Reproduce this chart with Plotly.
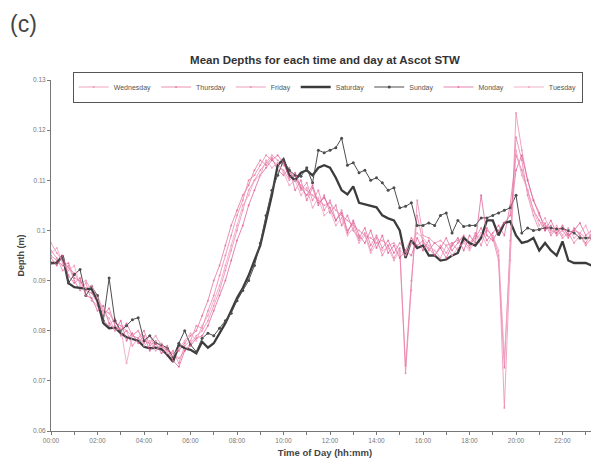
import numpy as np
import plotly.graph_objects as go

# ==========================================
# DATA (mean depth in m, 15-minute steps from 00:00)
# ==========================================
time_hours = np.arange(0, 24, 0.25)

tick_hours = [0, 2, 4, 6, 8, 10, 12, 14, 16, 18, 20, 22]
tick_labels = ["00:00", "02:00", "04:00", "06:00", "08:00", "10:00",
               "12:00", "14:00", "16:00", "18:00", "20:00", "22:00"]
depth_ticks = [0.06, 0.07, 0.08, 0.09, 0.10, 0.11, 0.12, 0.13]
depth_labels = ["0.06", "0.07", "0.08", "0.09", "0.1", "0.11", "0.12", "0.13"]

wednesday = [
    0.0975, 0.0955, 0.0940, 0.0925, 0.0915, 0.0895, 0.0900, 0.0880,
    0.0870, 0.0840, 0.0835, 0.0815, 0.0810, 0.0800, 0.0790, 0.0800,
    0.0780, 0.0775, 0.0790, 0.0770, 0.0760, 0.0755, 0.0745, 0.0760,
    0.0775, 0.0790, 0.0800, 0.0820, 0.0850, 0.0880, 0.0920, 0.0960,
    0.1000, 0.1040, 0.1080, 0.1100, 0.1120, 0.1135, 0.1150, 0.1140,
    0.1130, 0.1120, 0.1100, 0.1090, 0.1080, 0.1070, 0.1060, 0.1050,
    0.1055, 0.1040, 0.1030, 0.1020, 0.1010, 0.1000, 0.0990, 0.0985,
    0.0975, 0.0980, 0.0970, 0.0975, 0.0960, 0.0715, 0.0880, 0.1060,
    0.0990, 0.0985, 0.0975, 0.0980, 0.0970, 0.0975, 0.0980, 0.0985,
    0.0975, 0.0990, 0.0985, 0.1000, 0.0990, 0.0950, 0.0646, 0.0940,
    0.1234, 0.1160, 0.1100, 0.1060, 0.1030, 0.1010, 0.1000, 0.0995,
    0.1005, 0.0990, 0.1000, 0.0995, 0.0985, 0.0990, 0.0980, 0.0985,
]
thursday = [
    0.0950, 0.0940, 0.0930, 0.0935, 0.0905, 0.0900, 0.0880, 0.0875,
    0.0855, 0.0830, 0.0845, 0.0810, 0.0800, 0.0815, 0.0790, 0.0785,
    0.0800, 0.0770, 0.0780, 0.0765, 0.0770, 0.0745, 0.0760, 0.0775,
    0.0790, 0.0800, 0.0830, 0.0860, 0.0900, 0.0930, 0.0970, 0.1010,
    0.1040, 0.1070, 0.1090, 0.1120, 0.1140, 0.1130, 0.1145, 0.1120,
    0.1110, 0.1125, 0.1080, 0.1100, 0.1060, 0.1085, 0.1050, 0.1070,
    0.1035, 0.1050, 0.1010, 0.1030, 0.1000, 0.0985, 0.1005, 0.0970,
    0.0990, 0.0965, 0.0980, 0.0955, 0.0975, 0.0960, 0.0985, 0.0970,
    0.0980, 0.0960, 0.0975, 0.0965, 0.0985, 0.0960, 0.0975, 0.0990,
    0.0970, 0.0985, 0.1005, 0.0980, 0.0995, 0.1010, 0.0990, 0.1050,
    0.1150, 0.1120, 0.1080, 0.1040, 0.1020, 0.1000, 0.1010, 0.0990,
    0.1000, 0.0985, 0.1005, 0.0990, 0.0975, 0.0995, 0.0985, 0.0990,
]
friday = [
    0.0960, 0.0945, 0.0920, 0.0930, 0.0900, 0.0880, 0.0895, 0.0860,
    0.0850, 0.0820, 0.0810, 0.0825, 0.0790, 0.0800, 0.0770, 0.0785,
    0.0775, 0.0790, 0.0765, 0.0770, 0.0750, 0.0760, 0.0735, 0.0770,
    0.0780, 0.0810, 0.0805, 0.0840, 0.0870, 0.0910, 0.0950, 0.0990,
    0.1030, 0.1060, 0.1100, 0.1110, 0.1130, 0.1150, 0.1140, 0.1130,
    0.1120, 0.1100, 0.1110, 0.1080, 0.1095, 0.1060, 0.1080, 0.1040,
    0.1060, 0.1020, 0.1040, 0.1000, 0.1015, 0.0980, 0.0995, 0.0960,
    0.0985, 0.0950, 0.0970, 0.0945, 0.0965, 0.0730, 0.0900, 0.1030,
    0.0975, 0.0965, 0.0950, 0.0970, 0.0955, 0.0975, 0.0960, 0.0980,
    0.0965, 0.0995, 0.0970, 0.1005, 0.0985, 0.0940, 0.0726, 0.0980,
    0.1186, 0.1140, 0.1070, 0.1030, 0.1000, 0.1015, 0.0990, 0.1005,
    0.0985, 0.0995, 0.0975, 0.0990, 0.0970, 0.0985, 0.0995, 0.0980,
]
saturday = [
    0.0935, 0.0935, 0.0950, 0.0895, 0.0887, 0.0885, 0.0884, 0.0883,
    0.0860, 0.0815, 0.0805, 0.0806, 0.0795, 0.0787, 0.0783, 0.0780,
    0.0768, 0.0765, 0.0766, 0.0763, 0.0752, 0.0738, 0.0772, 0.0765,
    0.0762, 0.0755, 0.0778, 0.0766, 0.0775, 0.0795, 0.0815, 0.0840,
    0.0865, 0.0885, 0.0910, 0.0940, 0.0970, 0.1020, 0.1070, 0.1130,
    0.1142, 0.1110, 0.1100, 0.1115, 0.1120, 0.1110, 0.1125, 0.1130,
    0.1125, 0.1105, 0.1080, 0.1072, 0.1088, 0.1055, 0.1052, 0.1050,
    0.1046, 0.1030, 0.1024, 0.1020, 0.1000, 0.0945, 0.0980, 0.0965,
    0.0970, 0.0950, 0.0950, 0.0940, 0.0942, 0.0950, 0.0955, 0.0985,
    0.0975, 0.0970, 0.0985, 0.1020, 0.1020, 0.0990, 0.1015, 0.1018,
    0.0990, 0.0975, 0.0978, 0.0985, 0.0960, 0.0975, 0.0960, 0.0950,
    0.0978, 0.0940, 0.0935, 0.0935, 0.0935, 0.0930, 0.0915, 0.0910,
]
sunday = [
    0.0935, 0.0935, 0.0945, 0.0895, 0.0912, 0.0922, 0.0870, 0.0888,
    0.0870, 0.0820, 0.0905, 0.0820, 0.0800, 0.0810, 0.0822, 0.0826,
    0.0780, 0.0790, 0.0775, 0.0772, 0.0765, 0.0748, 0.0775, 0.0800,
    0.0772, 0.0758, 0.0785, 0.0795, 0.0790, 0.0805, 0.0820, 0.0835,
    0.0860, 0.0880, 0.0900, 0.0930, 0.0975, 0.1030, 0.1080, 0.1110,
    0.1140, 0.1120, 0.1110, 0.1108, 0.1125, 0.1095, 0.1160, 0.1155,
    0.1160, 0.1165, 0.1184, 0.1130, 0.1135, 0.1115, 0.1120, 0.1100,
    0.1105, 0.1095, 0.1080, 0.1085, 0.1045, 0.1048, 0.1055, 0.1010,
    0.1010, 0.1015, 0.1010, 0.1030, 0.1035, 0.0995, 0.1020, 0.1008,
    0.1010, 0.1010, 0.1025, 0.1025, 0.1030, 0.1035, 0.1040, 0.1045,
    0.1070, 0.0995, 0.1005, 0.1000, 0.1002, 0.1005, 0.1005, 0.1003,
    0.1004, 0.1000, 0.0995, 0.0985, 0.0985, 0.0985, 0.1005, 0.1000,
]
monday = [
    0.0945, 0.0930, 0.0950, 0.0910, 0.0895, 0.0905, 0.0870, 0.0865,
    0.0840, 0.0850, 0.0815, 0.0800, 0.0820, 0.0780, 0.0795, 0.0775,
    0.0790, 0.0760, 0.0775, 0.0755, 0.0765, 0.0740, 0.0728, 0.0760,
    0.0770, 0.0785, 0.0790, 0.0810, 0.0840, 0.0870, 0.0900, 0.0940,
    0.0980, 0.1010, 0.1050, 0.1080, 0.1110, 0.1125, 0.1140, 0.1150,
    0.1135, 0.1105, 0.1115, 0.1085, 0.1070, 0.1090, 0.1055, 0.1065,
    0.1045, 0.1020, 0.1035, 0.0995, 0.1020, 0.0990, 0.0975, 0.1000,
    0.0965, 0.0990, 0.0955, 0.0970, 0.0945, 0.0960, 0.0950, 0.0985,
    0.0960, 0.0980, 0.0950, 0.0965, 0.0945, 0.0970, 0.0985, 0.0960,
    0.0990, 0.0975, 0.1070, 0.0990, 0.0980, 0.1000, 0.1015, 0.1030,
    0.1120, 0.1150, 0.1100, 0.1060, 0.1035, 0.1000, 0.1020, 0.0995,
    0.1010, 0.0990, 0.1000, 0.1015, 0.0990, 0.1000, 0.1005, 0.0995,
]
tuesday = [
    0.0955, 0.0965, 0.0935, 0.0920, 0.0930, 0.0890, 0.0885, 0.0890,
    0.0865, 0.0835, 0.0825, 0.0800, 0.0805, 0.0735, 0.0790, 0.0800,
    0.0770, 0.0780, 0.0760, 0.0775, 0.0755, 0.0750, 0.0765, 0.0780,
    0.0795, 0.0780, 0.0810, 0.0830, 0.0860, 0.0890, 0.0930, 0.0970,
    0.1010, 0.1050, 0.1070, 0.1100, 0.1110, 0.1140, 0.1125, 0.1135,
    0.1115, 0.1090, 0.1100, 0.1070, 0.1085, 0.1045, 0.1065, 0.1030,
    0.1040, 0.1010, 0.1025, 0.0990, 0.1005, 0.0975, 0.0990, 0.0955,
    0.0975, 0.0960, 0.0965, 0.0940, 0.0960, 0.0950, 0.0975, 0.0995,
    0.0985, 0.0970, 0.0960, 0.0945, 0.0970, 0.0950, 0.0965, 0.0975,
    0.0960, 0.0980, 0.0995, 0.0970, 0.0990, 0.0960, 0.0746, 0.0960,
    0.1160, 0.1110, 0.1080, 0.1040, 0.1010, 0.1025, 0.0995, 0.1010,
    0.0990, 0.1005, 0.0985, 0.0995, 0.1010, 0.0980, 0.0990, 0.1000,
]

# name, values, colour, line width, marker size
series = [
    ("Wednesday", wednesday, "rgba(236,140,178,0.8)", 1.0, 2),
    ("Thursday", thursday, "rgba(226,108,152,0.75)", 1.0, 2),
    ("Friday", friday, "rgba(232,124,166,0.75)", 1.0, 2),
    ("Saturday", saturday, "#3c3c3c", 2.3, 0),
    ("Sunday", sunday, "#4d4d4d", 1.0, 3),
    ("Monday", monday, "rgba(222,92,150,0.75)", 1.0, 2),
    ("Tuesday", tuesday, "rgba(240,158,190,0.8)", 1.0, 2),
]

FONT = "Liberation Sans, Arial, sans-serif"

# page body adds an 8px offset, so the figure is laid out 8px up/left
W, H = 591, 459
PLOT_TOP, PLOT_BOTTOM, PLOT_LEFT = 72, 423, 43

fig = go.Figure()
for name, values, color, width, msize in series:
    fig.add_trace(go.Scatter(
        x=time_hours, y=values, name=name,
        mode="lines+markers" if msize else "lines",
        line=dict(color=color, width=width),
        marker=dict(size=msize, color=color),
    ))

fig.update_layout(
    width=W, height=H,
    margin=dict(l=PLOT_LEFT, r=0, t=PLOT_TOP, b=H - PLOT_BOTTOM),
    paper_bgcolor="white", plot_bgcolor="white",
    font=dict(family=FONT, color="#555"),
    title=dict(text="<b>Mean Depths for each time and day at Ascot STW</b>",
               x=0.5, xref="paper", xanchor="center",
               y=1 - 52 / H, yanchor="middle",
               font=dict(size=11.5, color="#333", family=FONT)),
    legend=dict(orientation="h", x=0.505, xanchor="center",
                y=(PLOT_BOTTOM - 79) / (PLOT_BOTTOM - PLOT_TOP), yanchor="middle",
                bgcolor="white", bordercolor="#555", borderwidth=1,
                font=dict(size=7, color="#555"), itemwidth=30,
                tracegroupgap=0),
    showlegend=True,
)

fig.update_xaxes(
    range=[0, 23.57], tickvals=tick_hours, ticktext=tick_labels,
    showgrid=False, zeroline=False, showline=True, linecolor="#777", linewidth=1,
    ticks="outside", ticklen=3, tickcolor="#777",
    minor=dict(dtick=1, ticks="outside", ticklen=3, tickcolor="#777"),
    tickfont=dict(size=6.5, color="#777"),
    title=dict(text="<b>Time of Day (hh:mm)</b>", standoff=6,
               font=dict(size=9.5, color="#444")),
)
fig.update_yaxes(
    range=[0.06, 0.13], tickvals=depth_ticks, ticktext=depth_labels,
    showgrid=False, zeroline=False, showline=True, linecolor="#777", linewidth=1,
    ticks="outside", ticklen=3, tickcolor="#777",
    tickfont=dict(size=6.5, color="#777"),
    title=dict(text="<b>Depth (m)</b>", standoff=6,
               font=dict(size=9, color="#444")),
)

fig.add_annotation(text="(c)", xref="paper", yref="paper",
                   x=-PLOT_LEFT / (W - PLOT_LEFT),
                   y=(PLOT_BOTTOM - 16) / (PLOT_BOTTOM - PLOT_TOP),
                   xanchor="left", yanchor="middle", showarrow=False,
                   font=dict(size=23, color="#444", family=FONT))

fig.write_html("out.html")
